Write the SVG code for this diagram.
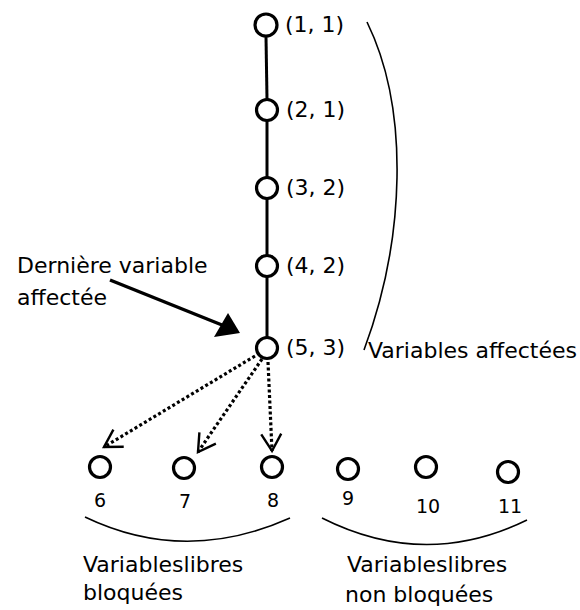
<svg xmlns="http://www.w3.org/2000/svg" width="580" height="610" viewBox="0 0 580 610">
<style>
  text { font-family: "DejaVu Sans", Verdana, sans-serif; fill: #000; }
  .lbl { font-size: 22px; }
  .num { font-size: 19px; text-anchor: middle; }
  .node { fill: #fff; stroke: #000; stroke-width: 3.2; }
  .edge { stroke: #000; stroke-width: 3; fill: none; }
  .dot { stroke: #000; stroke-width: 3.2; fill: none; stroke-dasharray: 3 2.5; }
  .brace { stroke: #000; stroke-width: 1.6; fill: none; }
</style>
<defs>
  <marker id="vhead" markerUnits="userSpaceOnUse" markerWidth="30" markerHeight="30" viewBox="-22 -15 30 30" refX="0" refY="0" orient="auto">
    <path d="M-17,-10 L0,0 L-17,10" fill="none" stroke="#000" stroke-width="2.4"/>
  </marker>
</defs>
<rect width="580" height="610" fill="#fff"/>

<g id="connectors">
  <line class="edge" x1="266" y1="37" x2="267" y2="99"/>
  <line class="edge" x1="267" y1="121" x2="267" y2="177"/>
  <line class="edge" x1="267" y1="199" x2="267" y2="255"/>
  <line class="edge" x1="267" y1="277" x2="267" y2="337"/>
  <line class="dot" x1="255" y1="356" x2="104" y2="447" marker-end="url(#vhead)"/>
  <line class="dot" x1="262" y1="359" x2="198" y2="452" marker-end="url(#vhead)"/>
  <line class="dot" x1="268" y1="362" x2="272" y2="451" marker-end="url(#vhead)"/>
  <line x1="110" y1="280" x2="222" y2="325" stroke="#000" stroke-width="3.5"/>
  <polygon points="240,333 214,337 228,313" fill="#000"/>
</g>

<g id="n11"><circle class="node" cx="266" cy="25" r="11"/><text class="lbl" x="285" y="32">(1, 1)</text></g>
<g id="n21"><circle class="node" cx="267" cy="110" r="10.5"/><text class="lbl" x="286" y="117">(2, 1)</text></g>
<g id="n32"><circle class="node" cx="267" cy="188" r="10.5"/><text class="lbl" x="286" y="195">(3, 2)</text></g>
<g id="n42"><circle class="node" cx="267" cy="266" r="10.5"/><text class="lbl" x="286" y="273">(4, 2)</text></g>
<g id="n53"><circle class="node" cx="267" cy="348" r="10.5"/><text class="lbl" x="286" y="355">(5, 3)</text></g>

<g id="affectees">
  <path class="brace" d="M367,22 C410,110 405,240 364,350"/>
  <text class="lbl" x="368" y="358">Variables affectées</text>
</g>

<g id="derniere">
  <text class="lbl" x="17" y="273">Dernière variable</text>
  <text class="lbl" x="17" y="305">affectée</text>
</g>

<g id="n6"><circle class="node" cx="100" cy="467" r="10.5"/><text class="num" x="100" y="507">6</text></g>
<g id="n7"><circle class="node" cx="184" cy="468" r="10.5"/><text class="num" x="185" y="508">7</text></g>
<g id="n8"><circle class="node" cx="272" cy="467" r="10.5"/><text class="num" x="273" y="507">8</text></g>
<g id="n9"><circle class="node" cx="348" cy="469" r="10.5"/><text class="num" x="348" y="505">9</text></g>
<g id="n10"><circle class="node" cx="426" cy="467" r="10.5"/><text class="num" x="428" y="513">10</text></g>
<g id="n11b"><circle class="node" cx="508" cy="472" r="10.5"/><text class="num" x="510" y="513">11</text></g>

<g id="bloquees">
  <path class="brace" d="M85,517 Q185,565 290,518"/>
  <text class="lbl" x="83" y="572">Variableslibres</text>
  <text class="lbl" x="83" y="600">bloquées</text>
</g>

<g id="nonbloquees">
  <path class="brace" d="M322,518 Q425,570 527,520"/>
  <text class="lbl" x="347" y="572">Variableslibres</text>
  <text class="lbl" x="345" y="602">non bloquées</text>
</g>
</svg>
